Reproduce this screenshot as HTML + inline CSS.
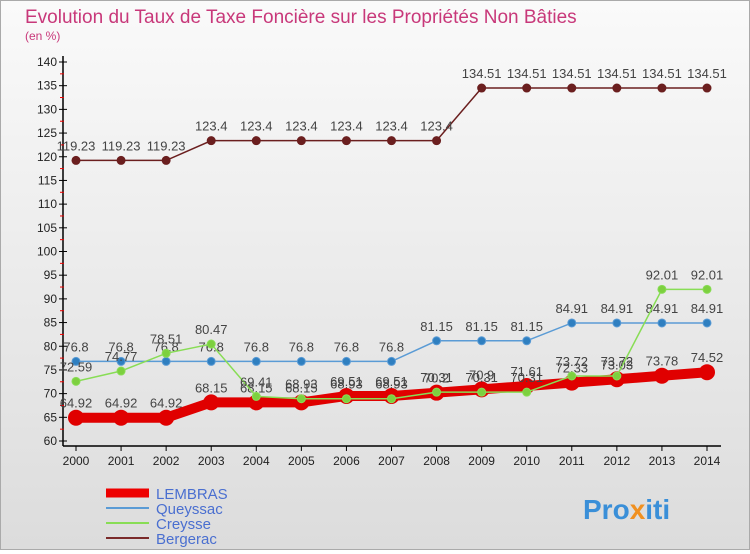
<!DOCTYPE html>
<html><head><meta charset="utf-8"><style>
body{margin:0;width:750px;height:550px;overflow:hidden;font-family:"Liberation Sans",sans-serif}
#root{position:relative;width:748px;height:548px;border:1px solid #aaa;background:linear-gradient(#fafafa,#dcdcdc)}
</style></head><body>
<div id="root">
<svg id="svg" width="748" height="548" xmlns="http://www.w3.org/2000/svg">
<text x="24" y="22" font-size="19" fill="#c8387a">Evolution du Taux de Taxe Foncière sur les Propriétés Non Bâties</text>
<text x="24" y="39" font-size="12" fill="#c8387a">(en %)</text>
<g id="axes"></g><g id="series"></g>
<g font-size="15">
<line x1="105" y1="492" x2="148" y2="492" stroke="#e00" stroke-width="9"/>
<text x="155" y="498" fill="#4a6fd0">LEMBRAS</text>
<line x1="105" y1="507" x2="148" y2="507" stroke="#5a9bd5" stroke-width="2"/>
<text x="155" y="513" fill="#4a6fd0">Queyssac</text>
<line x1="105" y1="522" x2="148" y2="522" stroke="#88dd55" stroke-width="2"/>
<text x="155" y="528" fill="#4a6fd0">Creysse</text>
<line x1="105" y1="537" x2="148" y2="537" stroke="#7a2a2a" stroke-width="2"/>
<text x="155" y="543" fill="#4a6fd0">Bergerac</text>
</g>
<text x="582" y="518" font-size="28" font-weight="bold"><tspan fill="#3a8fd8">Pro</tspan><tspan fill="#f09020">x</tspan><tspan fill="#3a8fd8">iti</tspan></text>
</svg></div>
<script>
const years=[2000,2001,2002,2003,2004,2005,2006,2007,2008,2009,2010,2011,2012,2013,2014];
const lembras=[64.92,64.92,64.92,68.15,68.15,68.15,69.51,69.51,70.2,70.9,71.61,72.33,73.03,73.78,74.52];
const queyssac=[76.8,76.8,76.8,76.8,76.8,76.8,76.8,76.8,81.15,81.15,81.15,84.91,84.91,84.91,84.91];
const creysse=[72.59,74.77,78.51,80.47,69.41,68.93,68.93,68.93,70.31,70.31,70.31,73.72,73.72,92.01,92.01];
const bergerac=[119.23,119.23,119.23,123.4,123.4,123.4,123.4,123.4,123.4,134.51,134.51,134.51,134.51,134.51,134.51];
const yTicks=[60,65,70,75,80,85,90,95,100,105,110,115,120,125,130,135,140];
const NS="http://www.w3.org/2000/svg";
const X=y=>75+(y-2000)*(706-75)/14;
const Y=v=>440-(v-60)*(440-61)/80;
function mk(t,a,p){const e=document.createElementNS(NS,t);for(const k in a)e.setAttribute(k,a[k]);p.appendChild(e);return e;}
const ax=document.getElementById('axes');
const yl=mk('line',{x1:62,y1:55,x2:62,y2:445,stroke:'#000','stroke-width':1.5},ax);

const xl=mk('line',{x1:62,y1:445,x2:720,y2:445,stroke:'#000','stroke-width':1.5},ax);

yTicks.forEach(v=>{
 mk('line',{x1:58,y1:Y(v),x2:66,y2:Y(v),stroke:'#000'},ax);
 if(v<140)mk('line',{x1:59,y1:Y(v+2.5),x2:63,y2:Y(v+2.5),stroke:'#e00'},ax);
 const t=mk('text',{x:56,y:Y(v)+4,'text-anchor':'end','font-size':12,fill:'#222'},ax);t.textContent=v;
 
});
years.forEach(y=>{
 mk('line',{x1:X(y),y1:445,x2:X(y),y2:450,stroke:'#000'},ax);
 const t=mk('text',{x:X(y),y:464,'text-anchor':'middle','font-size':12,fill:'#222'},ax);t.textContent=y;
 
});
const sg=document.getElementById('series');
function series(name,data,color,w,r,dot){
 const g=mk('g',{},sg);
 
 const pl=mk('polyline',{points:data.map((v,i)=>X(years[i])+','+Y(v)).join(' '),fill:'none',stroke:color,'stroke-width':w},g);
 
 data.forEach((v,i)=>{
  const c=mk('circle',{cx:X(years[i]),cy:Y(v),r:r,fill:dot,stroke:color},g);
  
  const t=mk('text',{x:X(years[i]),y:Y(v)-10,'text-anchor':'middle','font-size':13,fill:'#444'},g);t.textContent=v;
  
 });
}
series('bergerac',bergerac,'#6b1f1f',1.5,4,'#6b1f1f');
series('queyssac',queyssac,'#5a9bd5',1.5,4,'#2f7fc0');
series('lembras',lembras,'#e00000',10,7.5,'#e00000');
series('creysse',creysse,'#88dd55',1.5,4,'#7dd03f');
</script>
</body></html>
